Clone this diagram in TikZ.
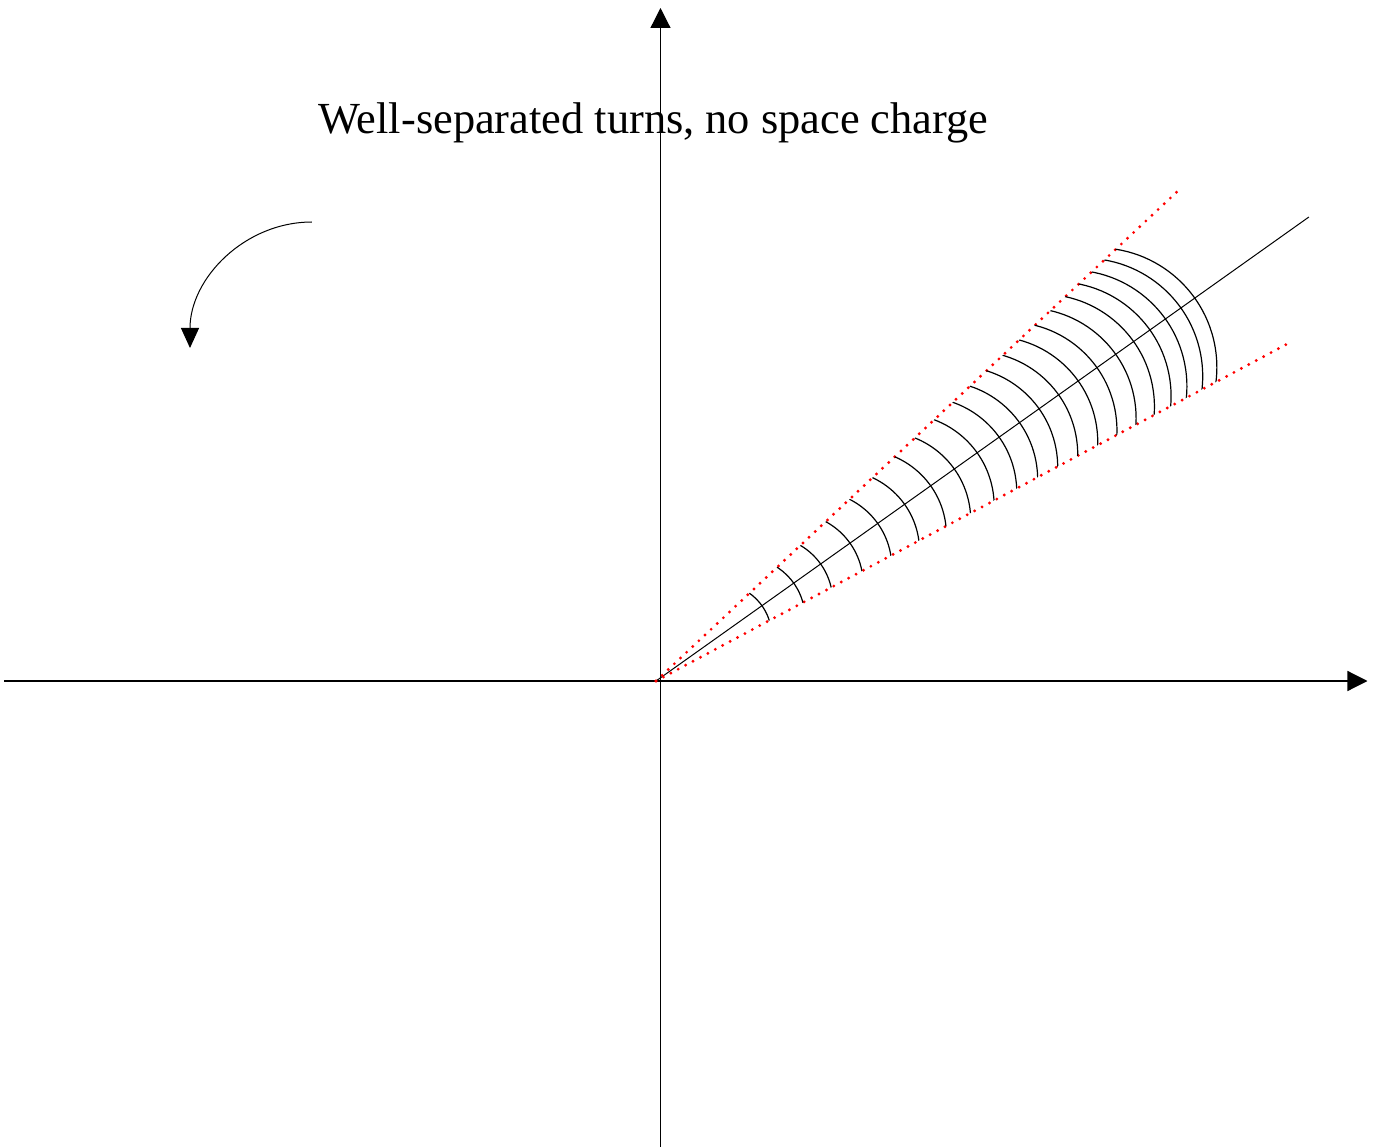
\documentclass[tikz,border=0pt]{standalone}
\usepackage{fontspec}
\setmainfont{Liberation Serif}
\usetikzlibrary{arrows.meta}
\tikzset{
  axis/.style={line width=0.6pt, -{Triangle[length=10pt,width=10pt]}},
  beamline/.style={line width=0.5pt},
  edge/.style={red, line width=1.6pt, line cap=round, dash pattern=on 0pt off 4.2pt},
  turn/.style={line width=0.6pt},
  spin/.style={line width=0.5pt, -{Triangle[length=10pt,width=9pt]}},
}

\begin{document}
\begin{tikzpicture}[x=0.5pt,y=0.5pt]
\useasboundingbox (-660.5,-466) rectangle (712.5,681);
\node[font=\fontsize{22.2}{26}\selectfont, anchor=base] (title) at (-7,547) {Well-separated turns, no space charge};
% axes
\coordinate (O) at (0,0);
\coordinate (xl) at (-656,0);
\coordinate (xr) at (707,0);
\coordinate (yb) at (0,-466);
\coordinate (yt) at (0,673);
\draw[axis] (xl) -- (xr);
\draw[axis] (yb) -- (yt);
% beam wedge
\coordinate (A) at (-4.5,0);
\path (A) ++(43.2:718) coordinate (up);
\path (A) ++(28.1:718) coordinate (lo);
\path (A) ++(35.4:801) coordinate (mid);
\draw[beamline] (A) -- (mid);
\draw[edge] (A) -- (up);
\draw[edge] (A) -- (lo);
% turns
\begin{scope}
  \clip (A) -- (up) -- (lo) -- cycle;
  \foreach \rt in {130,169,202,238,272,305,337,366,394,421,446,470,494,518,541,564,586,606,625,644,661}{
    \pgfmathsetmacro{\rc}{4.65*sqrt(\rt)}
    \pgfmathsetmacro{\dc}{\rt-\rc}
    \draw[turn] (A) ++(35.4:\dc) ++(95.4:\rc) arc[start angle=95.4, end angle=-24.6, radius=\rc];
  }
\end{scope}
% sense of rotation
\coordinate (s0) at (-348.5,459);
\draw[spin] (s0) arc[start angle=90, end angle=180, x radius=122, y radius=126];
\end{tikzpicture}
\end{document}
